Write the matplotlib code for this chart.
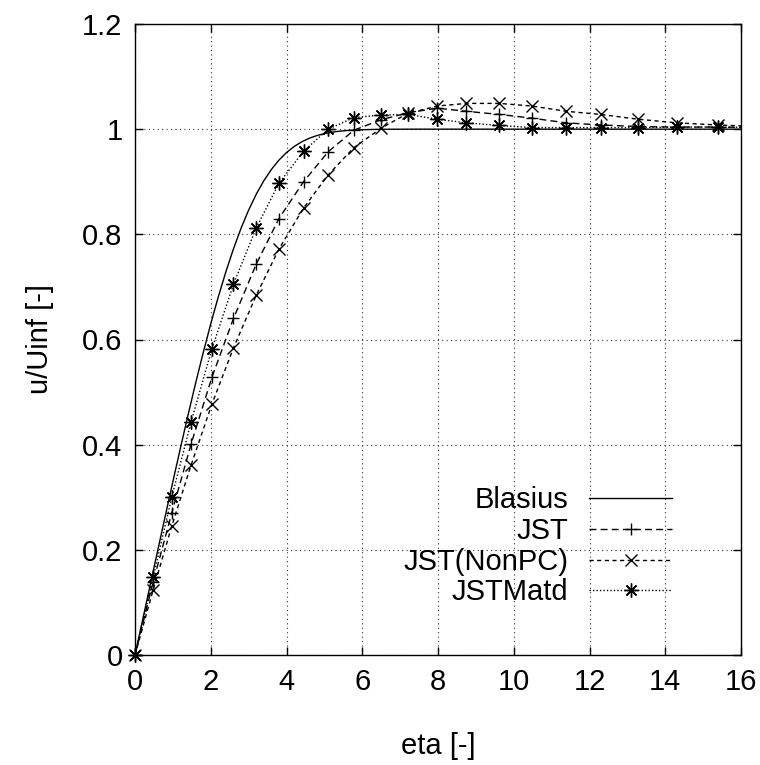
import matplotlib
matplotlib.use("Agg")
import matplotlib.pyplot as plt

plt.rcParams['font.family'] = ['Liberation Sans', 'DejaVu Sans']

# Blasius reference solution (tabulated f'(eta))
eta_blasius = [0.0, 0.2, 0.4, 0.6, 0.8, 1.0, 1.2, 1.4, 1.6, 1.8, 2.0, 2.2, 2.4, 2.6,
               2.8, 3.0, 3.2, 3.4, 3.6, 3.8, 4.0, 4.2, 4.4, 4.6, 4.8, 5.0, 5.2, 5.4,
               5.6, 5.8, 6.0, 6.4, 6.8, 7.2, 7.6, 8.0, 16.0]
u_blasius = [0.0, 0.06641, 0.13277, 0.19894, 0.26471, 0.32979, 0.39378, 0.45627,
             0.51676, 0.57477, 0.62977, 0.68132, 0.72899, 0.77246, 0.81152, 0.84605,
             0.87609, 0.90177, 0.92333, 0.94112, 0.95552, 0.96696, 0.97587, 0.98269,
             0.98779, 0.99155, 0.99425, 0.99616, 0.99748, 0.99838, 0.99898, 0.99961,
             0.99987, 0.99996, 0.99999, 1.0, 1.0]

# Computed profiles (same wall-normal grid)
eta = [0.0, 0.48, 0.97, 1.48, 2.03, 2.6, 3.2, 3.8, 4.45, 5.1, 5.78, 6.5, 7.2,
       7.98, 8.75, 9.62, 10.48, 11.38, 12.3, 13.27, 14.3, 15.38, 16.5]
u_jst = [0.0, 0.139, 0.27, 0.401, 0.528, 0.64, 0.743, 0.83, 0.90, 0.957, 0.998,
         1.018, 1.031, 1.04, 1.034, 1.028, 1.021, 1.012, 1.008, 1.005, 1.004, 1.004, 1.003]
u_nonpc = [0.0, 0.124, 0.245, 0.361, 0.477, 0.584, 0.684, 0.772, 0.85, 0.913, 0.965,
           1.002, 1.030, 1.044, 1.049, 1.049, 1.044, 1.034, 1.028, 1.019, 1.012, 1.008, 1.005]
u_matd = [0.0, 0.148, 0.30, 0.443, 0.582, 0.705, 0.812, 0.897, 0.958, 1.0, 1.022,
          1.027, 1.028, 1.019, 1.012, 1.007, 1.003, 1.003, 1.003, 1.003, 1.004, 1.004, 1.003]

x_ticks = [0, 2, 4, 6, 8, 10, 12, 14, 16]
y_ticks = [0, 0.2, 0.4, 0.6, 0.8, 1.0, 1.2]
y_ticklabels = ['0', '0.2', '0.4', '0.6', '0.8', '1', '1.2']

fs = 21

fig = plt.figure(figsize=(7.6, 7.65), dpi=100)
ax = fig.add_axes([135/760, 1 - 655/765, 606/760, 631/765])

lw = 1.0
ax.plot(eta_blasius, u_blasius, color='black', lw=lw, label='Blasius')
ax.plot(eta, u_jst, color='black', lw=lw, ls=(0, (5, 3)), marker='+', ms=9, mew=1.0,
        label='JST', markevery=slice(1, None))
ax.plot(eta, u_nonpc, color='black', lw=lw, ls=(0, (3, 2.5)), marker='x', ms=8, mew=1.0,
        label='JST(NonPC)', markevery=slice(1, None))
ax.plot(eta, u_matd, color='black', lw=lw, ls=(0, (1, 1.5)), marker=(8, 2, 0), ms=10, mew=1.0,
        label='JSTMatd', markevery=slice(1, None))
# wall points drawn unclipped
ax.plot(eta[:1], u_jst[:1], ls='none', marker='+', ms=9, mew=1.0, color='black', clip_on=False)
ax.plot(eta[:1], u_nonpc[:1], ls='none', marker='x', ms=8, mew=1.0, color='black', clip_on=False)
ax.plot(eta[:1], u_matd[:1], ls='none', marker=(8, 2, 0), ms=10, mew=1.0, color='black', clip_on=False)

ax.set_xlim(0, 16)
ax.set_ylim(0, 1.2)
ax.set_xticks(x_ticks)
ax.set_yticks(y_ticks)
ax.set_yticklabels(y_ticklabels)
ax.grid(True, color='#333333', ls=(0, (1, 3)), lw=0.8)
ax.tick_params(direction='in', length=6, width=1.0, top=True, right=True,
               labelsize=fs, pad=9)
for s in ax.spines.values():
    s.set_linewidth(1.0)

ax.set_xlabel('eta [-]', fontsize=fs, labelpad=26)
ax.set_ylabel('u/Uinf [-]', fontsize=fs, labelpad=20)

leg = ax.legend(loc='lower right', bbox_to_anchor=(0.911, 0.054), frameon=False,
                markerfirst=False, fontsize=fs, handlelength=2.85, handletextpad=0.72,
                labelspacing=0.09, borderpad=0)
for vp in leg._legend_box._children[-1]._children:
    vp.align = 'right'

fig.savefig('out.png', dpi=100)
